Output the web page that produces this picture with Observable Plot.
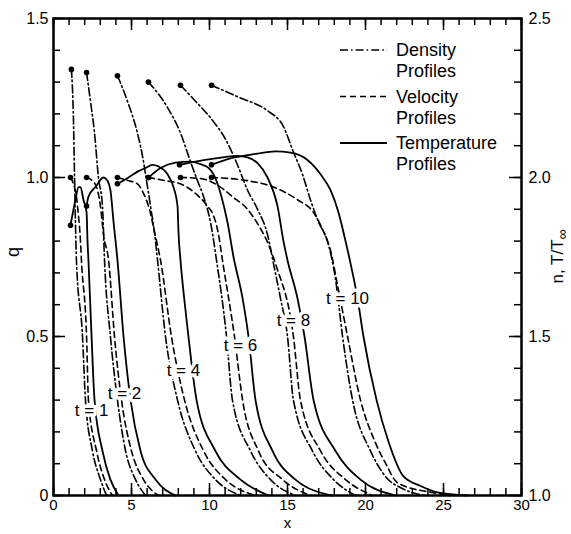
<!DOCTYPE html>
<html>
<head>
<meta charset="utf-8">
<script src="https://cdn.jsdelivr.net/npm/d3@7"></script>
<script src="https://cdn.jsdelivr.net/npm/@observablehq/plot@0.6"></script>
<style>
  body { margin: 0; background: #fff; }
  #chart svg { display: block; }
</style>
</head>
<body>
<div id="chart"></div>
<script>
// ---------- data (x, native value) ----------
const times = [1, 2, 4, 6, 8, 10];
const timeLabels = ["t = 1", "t = 2", "t = 4", "t = 6", "t = 8", "t = 10"];

// density n (right axis)
const densityT1 = [[1.15,2.34],[1.28,2.18],[1.35,2.00],[1.47,1.74],[1.86,1.50],[2.05,1.30],[2.50,1.14],[3.01,1.05],[3.40,1.00]];
const densityT2 = [[2.12,2.33],[2.37,2.24],[2.63,2.14],[2.88,2.00],[3.14,1.91],[3.27,1.74],[3.65,1.50],[4.10,1.30],[4.62,1.14],[5.26,1.05],[5.90,1.00]];
const densityT4 = [[4.10,2.32],[4.74,2.24],[5.38,2.14],[5.77,2.05],[5.90,2.01],[6.22,1.91],[6.54,1.80],[6.67,1.74],[7.18,1.50],[7.95,1.30],[9.10,1.14],[10.38,1.05],[11.99,1.00]];
const densityT6 = [[6.09,2.30],[7.31,2.22],[8.14,2.14],[8.78,2.05],[9.23,1.99],[9.62,1.94],[10.06,1.86],[10.45,1.74],[11.09,1.50],[11.47,1.30],[12.63,1.14],[13.91,1.05],[15.51,1.00]];
const densityT8 = [[8.14,2.29],[9.10,2.24],[10.19,2.18],[11.03,2.12],[11.79,2.04],[12.44,1.96],[13.08,1.90],[13.72,1.82],[14.10,1.73],[14.55,1.62],[15.00,1.50],[15.38,1.30],[16.60,1.14],[17.95,1.05],[19.36,1.00]];
const densityT10 = [[10.13,2.29],[11.99,2.25],[13.72,2.21],[14.74,2.16],[15.38,2.08],[15.96,2.01],[16.47,1.93],[16.99,1.86],[17.56,1.80],[18.08,1.68],[18.53,1.50],[19.17,1.30],[20.32,1.14],[21.28,1.06],[22.44,1.02],[23.85,1.00]];

// velocity q (left axis)
const velocityT1 = [[1.09,1.00],[1.28,0.98],[1.47,0.94],[1.60,0.88],[1.73,0.80],[1.79,0.74],[2.12,0.50],[2.24,0.30],[2.76,0.14],[3.27,0.05],[3.78,0.00]];
const velocityT2 = [[2.12,1.00],[2.50,0.99],[2.82,0.96],[3.01,0.91],[3.21,0.82],[3.53,0.74],[3.91,0.50],[4.36,0.30],[5.00,0.14],[5.77,0.05],[6.73,0.00]];
const velocityT4 = [[4.10,1.00],[4.81,0.99],[5.38,0.98],[5.77,0.95],[6.15,0.90],[6.47,0.83],[6.86,0.74],[7.56,0.50],[8.40,0.30],[9.62,0.14],[11.03,0.05],[12.95,0.00]];
const velocityT6 = [[6.09,1.00],[7.18,0.99],[8.14,0.98],[9.10,0.95],[9.87,0.91],[10.26,0.88],[10.58,0.82],[10.83,0.74],[11.60,0.50],[12.12,0.30],[13.14,0.14],[14.68,0.05],[16.47,0.00]];
const velocityT8 = [[8.14,1.00],[9.42,0.997],[10.38,0.98],[11.47,0.94],[12.44,0.90],[13.14,0.85],[13.78,0.79],[14.29,0.72],[15.38,0.50],[15.83,0.30],[17.12,0.14],[18.72,0.05],[20.45,0.00]];
const velocityT10 = [[10.13,1.00],[12.44,0.99],[14.10,0.97],[15.64,0.93],[16.67,0.89],[17.31,0.83],[17.76,0.77],[18.21,0.66],[18.85,0.50],[19.68,0.30],[20.60,0.17],[21.30,0.10],[22.05,0.04],[24.17,0.01],[25.45,0.00]];

// temperature T/T∞ (right axis)
const temperatureT1 = [[1.09,1.85],[1.41,1.93],[1.60,1.97],[1.73,1.97],[1.92,1.93],[2.12,1.89],[2.18,1.80],[2.24,1.74],[2.44,1.50],[2.63,1.30],[3.14,1.14],[3.65,1.05],[4.17,1.00]];
const temperatureT2 = [[2.12,1.91],[2.24,1.94],[2.69,1.97],[3.21,2.00],[3.46,1.99],[3.65,1.96],[3.85,1.86],[4.10,1.74],[4.49,1.50],[4.94,1.30],[5.58,1.14],[6.54,1.05],[7.82,1.00]];
const temperatureT4 = [[4.10,1.98],[4.81,2.00],[5.45,2.02],[5.90,2.03],[6.35,2.04],[6.73,2.035],[7.31,2.01],[7.69,1.97],[7.95,1.91],[8.01,1.83],[8.14,1.74],[8.40,1.61],[8.65,1.50],[9.17,1.30],[10.38,1.14],[11.99,1.05],[13.78,1.00]];
const temperatureT6 = [[6.09,2.00],[6.86,2.03],[7.82,2.047],[8.78,2.05],[9.42,2.042],[9.94,2.03],[10.26,2.01],[10.71,1.95],[11.15,1.86],[11.54,1.75],[12.12,1.62],[12.50,1.50],[12.95,1.30],[14.04,1.14],[15.51,1.05],[17.88,1.00]];
const temperatureT8 = [[8.08,2.04],[9.10,2.05],[10.38,2.06],[11.79,2.068],[12.44,2.063],[13.08,2.045],[13.72,2.00],[14.36,1.91],[14.74,1.80],[15.00,1.74],[15.64,1.62],[16.09,1.50],[16.67,1.30],[18.08,1.14],[19.68,1.05],[21.92,1.00]];
const temperatureT10 = [[10.13,2.04],[11.35,2.06],[12.95,2.074],[14.23,2.082],[15.19,2.078],[16.28,2.055],[17.12,2.01],[17.76,1.96],[18.27,1.89],[18.72,1.80],[19.04,1.73],[19.49,1.62],[19.87,1.50],[20.71,1.30],[21.47,1.17],[22.44,1.06],[23.53,1.03],[24.62,1.01],[26.54,1.00]];

// axis ticks
const xTicks = [0, 5, 10, 15, 20, 25, 30];
const qTicks = [0, 0.5, 1.0, 1.5];
const rightTicks = [1.0, 1.5, 2.0, 2.5];

// annotation placement of the "t = .." labels (data units: x, q)
const labelX = [2.44, 4.55, 8.33, 11.99, 15.38, 18.85];
const labelQ = [0.267, 0.321, 0.393, 0.472, 0.550, 0.619];

// ---------- build tables ----------
const rightOffset = 1; // right axis value = q + 1
const density = [densityT1, densityT2, densityT4, densityT6, densityT8, densityT10];
const velocity = [velocityT1, velocityT2, velocityT4, velocityT6, velocityT8, velocityT10];
const temperature = [temperatureT1, temperatureT2, temperatureT4, temperatureT6, temperatureT8, temperatureT10];

const toRows = (curves, off) => curves.flatMap((c, i) => c.map(([x, v]) => ({t: times[i], x, y: v - off})));
const densityRows = toRows(density, rightOffset);
const velocityRows = toRows(velocity, 0);
const temperatureRows = toRows(temperature, rightOffset);
const startDots = [
  ...density.map(c => ({x: c[0][0], y: c[0][1] - rightOffset})),
  ...velocity.map(c => ({x: c[0][0], y: c[0][1]})),
  ...temperature.map(c => ({x: c[0][0], y: c[0][1] - rightOffset}))
];
const labels = times.map((t, i) => ({x: labelX[i], y: labelQ[i], text: timeLabels[i]}));

// ---------- layout ----------
const W = 571, H = 534;
const mL = 53, mR = 50, mT = 18, mB = 39;
const fw = W - mL - mR, fh = H - mT - mB;
const minor = 7, major = 12;
const xMinor = d3.range(0, 31, 1);
const yMinor = d3.range(0, 1.501, 0.1).map(d => +d.toFixed(2));
const yMajor = qTicks;
const FONT = "'Liberation Sans', Arial, sans-serif";

const DASHDOT = "8,3,1.6,3";
const DASH = "6,4";
const lineOpts = {x: "x", y: "y", z: "t", curve: "monotone-x", stroke: "black", strokeWidth: 1.6};

const plot = Plot.plot({
  width: W, height: H,
  marginLeft: mL, marginRight: mR, marginTop: mT, marginBottom: mB,
  style: {fontFamily: FONT, fontSize: "16px", color: "black", background: "white"},
  x: {domain: [0, 30]},
  y: {domain: [0, 1.5]},
  marks: [
    Plot.line(densityRows, {...lineOpts, strokeDasharray: DASHDOT}),
    Plot.line(velocityRows, {...lineOpts, strokeDasharray: DASH}),
    Plot.line(temperatureRows, {...lineOpts, strokeWidth: 1.8}),
    Plot.dot(startDots, {x: "x", y: "y", r: 2.8, fill: "black"}),
    Plot.text(labels, {x: "x", y: "y", text: "text", fontSize: 17, fill: "black", stroke: "white", strokeWidth: 7}),
    // ticks (inward)
    Plot.ruleX(xMinor, {x: d => d, insetTop: fh - minor, strokeWidth: 1.5}),
    Plot.ruleX(xTicks, {x: d => d, insetTop: fh - major, strokeWidth: 1.5}),
    Plot.ruleX(xMinor, {x: d => d, insetBottom: fh - minor, strokeWidth: 1.5}),
    Plot.ruleX(xTicks, {x: d => d, insetBottom: fh - major, strokeWidth: 1.5}),
    Plot.ruleY(yMinor, {y: d => d, insetRight: fw - minor, strokeWidth: 1.5}),
    Plot.ruleY(yMajor, {y: d => d, insetRight: fw - major, strokeWidth: 1.5}),
    Plot.ruleY(yMinor, {y: d => d, insetLeft: fw - minor, strokeWidth: 1.5}),
    Plot.ruleY(rightTicks.map(v => v - rightOffset), {y: d => d, insetLeft: fw - major, strokeWidth: 1.5}),
    Plot.frame({stroke: "black", strokeWidth: 2.5}),
    // tick labels
    Plot.axisX({ticks: xTicks, tickSize: 0, tickPadding: 4, label: null, fontSize: 15}),
    Plot.axisY({ticks: qTicks, tickSize: 0, tickPadding: 5, label: null, fontSize: 16,
      tickFormat: d => d === 0 ? "0" : d.toFixed(1)}),
    Plot.axisY({anchor: "right", ticks: rightTicks.map(v => v - rightOffset), tickSize: 0, tickPadding: 7, label: null, fontSize: 16,
      tickFormat: d => (d + rightOffset).toFixed(1)}),
    // axis titles
    Plot.text(["x"], {frameAnchor: "bottom", dy: 32, fontSize: 15}),
    Plot.text(["q"], {frameAnchor: "left", dx: -40, rotate: -90, fontSize: 18})
  ]
});

document.getElementById("chart").appendChild(plot);

// right axis title with subscript ∞
const svg = d3.select(plot);
const rt = svg.append("text")
  .attr("transform", `translate(${W - 12},${mT + fh / 2}) rotate(-90)`)
  .attr("text-anchor", "middle")
  .attr("dominant-baseline", "middle")
  .style("font-size", "17px")
  .style("font-family", FONT)
  .attr("fill", "black");
rt.append("tspan").text("n, T/T");
rt.append("tspan").attr("dy", 4).style("font-size", "14px").text("\u221E");

// legend
const legendItems = [
  {name: "Density", dash: DASHDOT, sw: 1.6},
  {name: "Velocity", dash: DASH, sw: 1.6},
  {name: "Temperature", dash: null, sw: 1.8}
];
const lg = svg.append("g").attr("font-family", FONT).attr("font-size", 18).attr("text-anchor", "start");
legendItems.forEach((d, i) => {
  const y0 = 50 + i * 46.5;
  lg.append("line").attr("x1", 340).attr("x2", 387).attr("y1", y0).attr("y2", y0)
    .attr("stroke", "black").attr("stroke-width", d.sw).attr("stroke-dasharray", d.dash);
  lg.append("text").attr("x", 396).attr("y", y0).attr("dy", "0.35em").attr("text-anchor", "start").text(d.name);
  lg.append("text").attr("x", 396).attr("y", y0 + 21).attr("dy", "0.35em").attr("text-anchor", "start").text("Profiles");
});
</script>
</body>
</html>
